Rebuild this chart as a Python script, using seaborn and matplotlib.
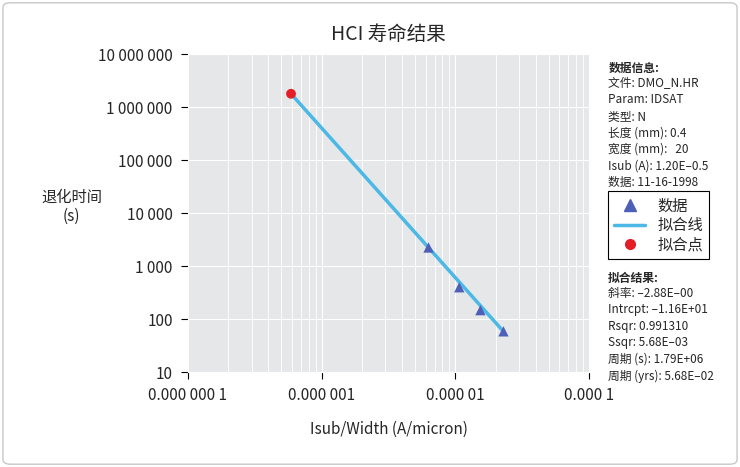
import numpy as np
import pandas as pd
import matplotlib
matplotlib.use('Agg')
import matplotlib.pyplot as plt
import seaborn as sns
from matplotlib.lines import Line2D
from matplotlib.patches import FancyBboxPatch

# data
data_x = [6.3e-6, 1.07e-5, 1.54e-5, 2.29e-5]
data_y = [2250, 400, 148, 59]
fit_x = [5.9e-7, 2.3e-5]
fit_y = [1.79e6, 58]
pt_x = [5.9e-7]
pt_y = [1.79e6]

x_ticks = [1e-7, 1e-6, 1e-5, 1e-4]
x_labels = ['0.000 000 1', '0.000 001', '0.000 01', '0.000 1']
y_ticks = [10, 100, 1e3, 1e4, 1e5, 1e6, 1e7]
y_labels = ['10', '100', '1 000', '10 000', '100 000', '1 000 000', '10 000 000']

info_lines = ['文件: DMO_N.HR', 'Param: IDSAT', '类型: N', '长度 (mm): 0.4',
              '宽度 (mm):   20', 'Isub (A): 1.20E–0.5', '数据: 11-16-1998']
fit_lines = ['斜率: –2.88E–00', 'Intrcpt: –1.16E+01', 'Rsqr: 0.991310',
             'Ssqr: 5.68E–03', '周期 (s): 1.79E+06', '周期 (yrs): 5.68E–02']

sns.set_style('darkgrid', {'axes.facecolor': '#e6e7e8', 'grid.color': 'white'})
plt.rcParams['font.family'] = ['Noto Sans CJK SC', 'DejaVu Sans']

fig = plt.figure(figsize=(7.4, 4.67), dpi=100)
fig.patches.append(FancyBboxPatch((0.004, 0.006), 0.992, 0.988, boxstyle='round,pad=0,rounding_size=0.01',
                                  transform=fig.transFigure, fill=False, ec='#c8c8c8', lw=1))
ax = fig.add_axes([0.254, 0.203, 0.542, 0.681])

sns.lineplot(x=fit_x, y=fit_y, ax=ax, color='#4bb8e6', lw=2.5, zorder=3)
sns.scatterplot(x=data_x, y=data_y, ax=ax, marker='^', color='#4e5fb8', s=55, edgecolor='none', zorder=4)
sns.scatterplot(x=pt_x, y=pt_y, ax=ax, marker='o', color='#e41e26', s=50, edgecolor='none', zorder=4)

ax.set_xscale('log')
ax.set_yscale('log')
ax.set_xlim(1e-7, 1e-4)
ax.set_ylim(10, 1e7)
ax.set_xticks(x_ticks)
ax.set_xticklabels(x_labels, fontsize=11)
ax.set_yticks(y_ticks)
ax.set_yticklabels(y_labels, fontsize=11)
ax.xaxis.set_minor_locator(matplotlib.ticker.LogLocator(subs=np.arange(2, 10)))
ax.xaxis.set_minor_formatter(matplotlib.ticker.NullFormatter())
ax.yaxis.set_minor_formatter(matplotlib.ticker.NullFormatter())
ax.grid(which='minor', axis='x', color='white', lw=0.6)
ax.grid(which='minor', axis='y', visible=False)
ax.tick_params(axis='both', which='major', length=5, color='black', direction='out', left=True, bottom=True, pad=6)
ax.tick_params(which='minor', length=0)
ax.set_xlabel('Isub/Width (A/micron)', fontsize=11, labelpad=12)
ax.set_ylabel('退化时间\n(s)', fontsize=11, rotation=0, labelpad=22, va='center', ha='center')
ax.yaxis.set_label_coords(-0.29, 0.52)
ax.set_title('HCI 寿命结果', fontsize=14, pad=10, fontweight='medium')

fig.text(0.822, 0.868, '数据信息:', fontsize=8.5, fontweight='bold', va='top')
fig.text(0.822, 0.836, '\n'.join(info_lines), fontsize=8.5, va='top', linespacing=1.35)
fig.text(0.822, 0.418, '拟合结果:', fontsize=8.5, fontweight='bold', va='top')
fig.text(0.822, 0.386, '\n'.join(fit_lines), fontsize=8.5, va='top', linespacing=1.35)

handles = [Line2D([], [], marker='^', color='#4e5fb8', ls='none', markersize=8),
           Line2D([], [], color='#4bb8e6', lw=2.5),
           Line2D([], [], marker='o', color='#e41e26', ls='none', markersize=7)]
leg = fig.legend(handles, ['数据', '拟合线', '拟合点'], loc='upper left', bbox_to_anchor=(0.822, 0.59),
                 fontsize=11, frameon=True, fancybox=False, edgecolor='black', facecolor='white',
                 framealpha=1, handlelength=2, labelspacing=0.15, borderpad=0.4, borderaxespad=0)
leg.get_frame().set_linewidth(0.8)

fig.savefig('out.png', dpi=100)
